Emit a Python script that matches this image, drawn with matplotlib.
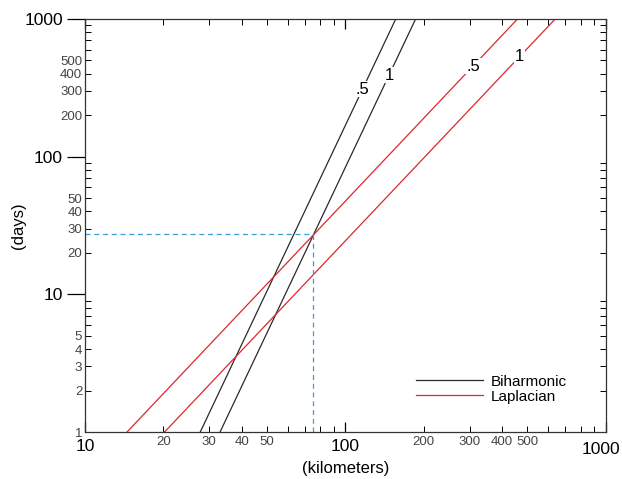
import math
import matplotlib.pyplot as plt
from matplotlib.ticker import FixedLocator, FuncFormatter

plt.rcParams['font.family'] = ['Liberation Sans', 'DejaVu Sans']

# line ends: km at 1 day and at 1000 days
days = [1, 1000]
lap_half_km = [14.5, 458]
lap_one_km = [20.2, 639]
bih_half_km = [27.7, 156]
bih_one_km = [33.0, 186]
line_names = ['.5', '1', '.5', '1']
label_days = [310, 390, 455, 530]   # where the .5 / 1 labels sit

# dashed guide
guide_km = 75.2
guide_days = 27.5

y_minor_vals = [1, 2, 3, 4, 5, 20, 30, 40, 50, 200, 300, 400, 500]
x_minor_vals = [20, 30, 40, 50, 200, 300, 400, 500]

black = '#2a2a2a'
red = '#dc2830'
blue = '#3a9fcf'

fig = plt.figure(figsize=(6.22, 4.79), dpi=100)
ax = fig.add_axes([0.1367, 0.0981, 0.8373, 0.8622])
ax.set_xscale('log')
ax.set_yscale('log')
ax.set_xlim(10, 1000)
ax.set_ylim(1, 1000)

ax.plot(bih_half_km, days, color=black, lw=0.9, label='Biharmonic')
ax.plot(bih_one_km, days, color=black, lw=0.9)
ax.plot(lap_half_km, days, color=red, lw=0.9, label='Laplacian')
ax.plot(lap_one_km, days, color=red, lw=0.9)

ax.plot([10, guide_km], [guide_days, guide_days], ls=(0, (4, 3)), color=blue, lw=0.9)
ax.plot([guide_km, guide_km], [1, guide_days], ls=(0, (4, 3)), color=blue, lw=0.9)

# line labels, put on the lines (power law through the end points)
for km, nm, d in zip([bih_half_km, bih_one_km, lap_half_km, lap_one_km], line_names, label_days):
    slope = 3 / math.log10(km[1] / km[0])
    x = km[0] * d ** (1 / slope)
    ax.text(x, d, nm, fontsize=12, ha='center', va='center', color='black',
            bbox=dict(facecolor='white', edgecolor='none', pad=0.5), zorder=5)

# y ticks
ax.yaxis.set_major_locator(FixedLocator([10, 100, 1000]))
ax.yaxis.set_major_formatter(FuncFormatter(lambda v, p: '%d' % v))
ax.yaxis.set_minor_locator(FixedLocator([m * 10 ** e for e in range(3) for m in range(1, 10)]))
ax.yaxis.set_minor_formatter(FuncFormatter(lambda v, p: ('%d' % round(v)) if round(v) in y_minor_vals else ''))
ax.tick_params(axis='y', which='major', direction='out', length=13, width=0.9,
               labelsize=12.5, pad=3, right=False)
ax.tick_params(axis='y', which='minor', direction='in', length=4, width=0.7,
               labelsize=9.5, labelcolor='#444444', pad=2, right=True)

# x ticks (1000 drawn by hand so it can hang past the frame like the original)
ax.xaxis.set_major_locator(FixedLocator([10, 100, 1000]))
ax.xaxis.set_major_formatter(FuncFormatter(lambda v, p: '' if v >= 1000 else '%d' % v))
ax.xaxis.set_minor_locator(FixedLocator([m * 10 ** e for e in range(1, 3) for m in range(2, 10)]))
ax.xaxis.set_minor_formatter(FuncFormatter(lambda v, p: ('%d' % round(v)) if round(v) in x_minor_vals else ''))
ax.tick_params(axis='x', which='major', direction='in', length=7, width=0.9,
               labelsize=12.5, pad=5, top=True)
ax.tick_params(axis='x', which='minor', direction='in', length=4, width=0.7,
               labelsize=9.5, labelcolor='#444444', pad=3, top=True)
ax.text(1.027, -0.024, '1000', transform=ax.transAxes, ha='right', va='top', fontsize=12.5)

for s in ax.spines.values():
    s.set_linewidth(0.9)
    s.set_color('#333333')

ax.set_xlabel('(kilometers)', fontsize=12, labelpad=5)
ax.set_ylabel('(days)', fontsize=12)
ax.yaxis.set_label_coords(-0.113, 0.5)

ax.legend(loc='upper left', bbox_to_anchor=(0.62, 0.157), frameon=False, fontsize=11,
          handlelength=4.4, handletextpad=0.5, labelspacing=0.05, borderpad=0)

fig.savefig('out.png', dpi=100)
